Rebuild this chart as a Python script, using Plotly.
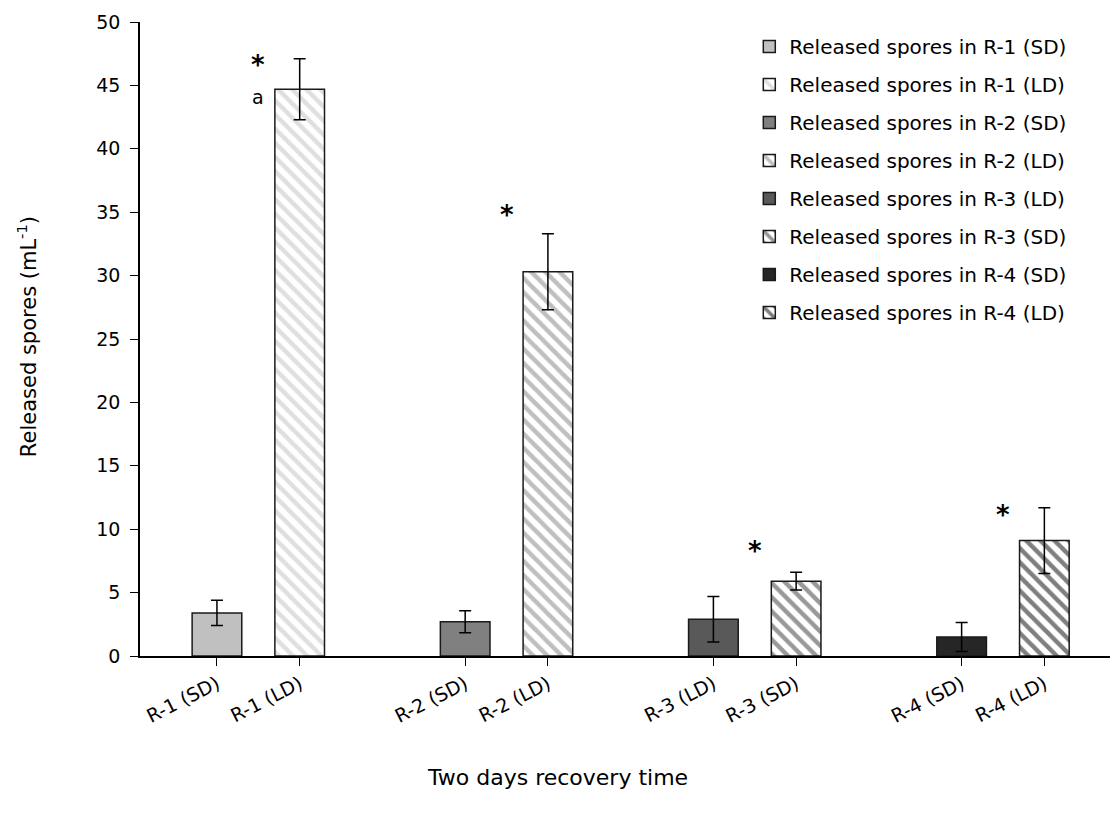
import plotly.graph_objects as go

labels = ["R-1 (SD)", "R-1 (LD)", "R-2 (SD)", "R-2 (LD)",
          "R-3 (LD)", "R-3 (SD)", "R-4 (SD)", "R-4 (LD)"]
values = [3.4, 44.7, 2.7, 30.3, 2.9, 5.9, 1.5, 9.1]
errors = [1.0, 2.4, 0.87, 3.0, 1.8, 0.7, 1.15, 2.6]
fills = ["#c0c0c0", "white", "#808080", "white", "#595959", "white", "#262626", "white"]
hatch = ["", "\\", "", "\\", "", "\\", "", "\\"]
hatch_colors = ["#c0c0c0", "#c0c0c0", "#808080", "#808080", "#595959", "#333333", "#262626", "#000000"]
legend_names = ["Released spores in " + l for l in labels]

# significance marks: (bar index, text, y)
marks = [(1, "*", 46.6), (1, "a", 44.1), (3, "*", 34.8), (5, "*", 8.3), (7, "*", 11.1)]

# slot positions: two bars per group, one empty slot between groups
slots = [g * 3 + j for g in range(4) for j in range(2)]

FONT = "DejaVu Sans"
fig = go.Figure()
for i in range(len(labels)):
    marker = dict(color=fills[i], line=dict(color="#1a1a1a", width=1.5))
    if hatch[i]:
        marker["pattern"] = dict(shape=hatch[i], fgcolor=hatch_colors[i], bgcolor="white",
                                 size=10, solidity=0.45, fillmode="overlay")
    fig.add_trace(go.Bar(
        x=[slots[i]], y=[values[i]], name=legend_names[i], width=0.6,
        legendgroup="g%d" % i,
        marker=marker,
        error_y=dict(type="data", array=[errors[i]], color="black", thickness=1.5, width=6),
    ))

for idx, txt, yv in marks:
    star = txt == "*"
    fig.add_annotation(x=slots[idx] - 0.5, y=yv, text="<b>*</b>" if star else txt, showarrow=False,
                       font=dict(family=FONT, size=26 if star else 19, color="black"),
                       xref="x", yref="y")

fig.add_annotation(text="Two days recovery time", x=0.4274, y=-0.191, xref="paper", yref="paper",
                   showarrow=False, xanchor="center", yanchor="middle",
                   font=dict(family=FONT, size=22, color="black"))
fig.add_annotation(text="Released spores (mL<sup>-1</sup>)", x=-0.1155, y=0.503,
                   xref="paper", yref="paper", showarrow=False, textangle=-90,
                   xanchor="center", yanchor="middle",
                   font=dict(family=FONT, size=21, color="black"))

fig.update_layout(
    width=1110, height=808,
    margin=dict(l=132, r=0, t=14, b=160),
    paper_bgcolor="white", plot_bgcolor="white",
    barmode="overlay",
    font=dict(family=FONT, size=18, color="black"),
    showlegend=True,
    legend=dict(x=0.623, y=0.992, xanchor="left", yanchor="top", bgcolor="rgba(0,0,0,0)",
                font=dict(family=FONT, size=20), tracegroupgap=9),
    xaxis=dict(range=[-0.93, 10.89], tickmode="array", tickvals=slots, ticktext=labels,
               tickangle=-27, showline=True, linecolor="black", linewidth=1.5,
               ticks="outside", ticklen=8, tickcolor="black", showgrid=False, zeroline=False,
               tickfont=dict(family=FONT, size=19)),
    yaxis=dict(range=[0, 50], dtick=5, showline=True, linecolor="black", linewidth=1.5,
               ticks="outside", ticklen=8, tickcolor="black", showgrid=False, zeroline=False,
               ticklabelstandoff=6,
               tickfont=dict(family=FONT, size=19)),
)

fig.write_html("out.html")
